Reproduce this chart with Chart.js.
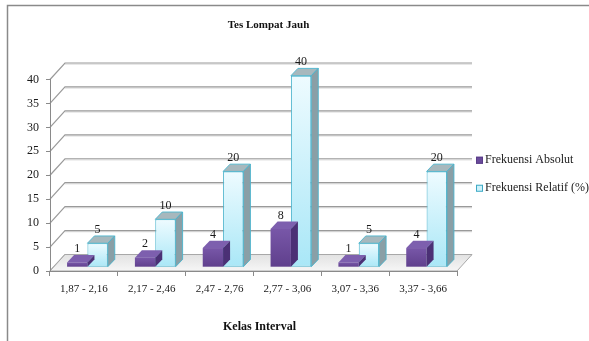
<!DOCTYPE html>
<html>
<head>
<meta charset="utf-8">
<script src="https://cdn.jsdelivr.net/npm/chart.js@4.4.1/dist/chart.umd.min.js"></script>
<style>
  html, body { margin: 0; padding: 0; background: #ffffff; }
  #wrap { width: 589px; height: 341px; }
  canvas { display: block; }
</style>
</head>
<body>
<div id="wrap"><canvas id="c" width="589" height="341"></canvas></div>
<script>
// Interval classes and frequencies
const categories = ['1,87 - 2,16', '2,17 - 2,46', '2,47 - 2,76', '2,77 - 3,06', '3,07 - 3,36', '3,37 - 3,66'];
const frekuensiAbsolut = [1, 2, 4, 8, 1, 4];
const frekuensiRelatif = [5, 10, 20, 40, 5, 20];
const seriesNames = ['Frekuensi Absolut', 'Frekuensi Relatif (%)'];
const yMin = 0;
const yMax = 40;
const yStep = 5;
const chartTitle = 'Tes Lompat Jauh';
const xAxisTitle = 'Kelas Interval';

const SERIF = "'Liberation Serif', 'Times New Roman', serif";

// 3D look: depth of the walls and of the columns
const WALL = { dx: 15, dy: -16.5 };
const FACE = { dx: 3.5, dy: -3.8 };   // column front faces sit a little behind the front plane
const DEPTH = { dx: 7, dy: -7.3 };    // column thickness

const looks = [
  { front: ['#7857a8', '#5f3f8c'], top: '#7d5fae', side: '#4b3075', edge: null, swatch: '#6a4b9b', swatchEdge: '#5a3d88' },
  { front: ['#eefbff', '#a9e7f7'], top: '#a7b8bd', side: '#8a9fa6', edge: '#4bb4cd', swatch: '#cdf2fb', swatchEdge: '#3fa9c4' }
];

function frontFill(stops) {
  return (c) => {
    const chart = c.chart;
    const y = chart.scales && chart.scales.y;
    if (c.type !== 'data' || !y) return stops[1];
    const top = y.getPixelForValue(c.raw);
    const bot = y.getPixelForValue(0);
    if (!isFinite(top) || !isFinite(bot) || Math.abs(bot - top) < 1) return stops[1];
    const g = chart.ctx.createLinearGradient(0, top, 0, bot);
    g.addColorStop(0, stops[0]);
    g.addColorStop(1, stops[1]);
    return g;
  };
}

const threeD = {
  id: 'threeD',
  beforeDraw(chart) {
    const { ctx, chartArea: a, scales: { y } } = chart;
    ctx.save();
    ctx.fillStyle = '#ffffff';
    ctx.fillRect(0, 0, chart.width, chart.height);

    // outer frame
    ctx.strokeStyle = '#8a8a8a';
    ctx.lineWidth = 1.5;
    ctx.beginPath();
    ctx.moveTo(7.5, chart.height);
    ctx.lineTo(7.5, 5.5);
    ctx.lineTo(chart.width, 5.5);
    ctx.stroke();

    // back wall gridlines and left wall edges
    for (let v = yMin; v <= yMax; v += yStep) {
      const yf = y.getPixelForValue(v);
      const yb = yf + WALL.dy;
      ctx.strokeStyle = '#dcdcdc';
      ctx.lineWidth = 1;
      ctx.beginPath();
      ctx.moveTo(a.left + WALL.dx, yb + 1.2);
      ctx.lineTo(a.right + WALL.dx, yb + 1.2);
      ctx.stroke();
      ctx.strokeStyle = '#9a9a9a';
      ctx.lineWidth = 1.2;
      ctx.beginPath();
      ctx.moveTo(a.left, yf);
      ctx.lineTo(a.left + WALL.dx, yb);
      ctx.lineTo(a.right + WALL.dx, yb);
      ctx.stroke();
    }

    // floor
    const y0 = y.getPixelForValue(0);
    const g = ctx.createLinearGradient(0, y0 + WALL.dy, 0, y0);
    g.addColorStop(0, '#e2e2e2');
    g.addColorStop(1, '#f6f6f6');
    ctx.fillStyle = g;
    ctx.strokeStyle = '#a8a8a8';
    ctx.lineWidth = 1;
    ctx.beginPath();
    ctx.moveTo(a.left, y0);
    ctx.lineTo(a.right, y0);
    ctx.lineTo(a.right + WALL.dx, y0 + WALL.dy);
    ctx.lineTo(a.left + WALL.dx, y0 + WALL.dy);
    ctx.closePath();
    ctx.fill();
    ctx.stroke();
    ctx.restore();
  },
  beforeDatasetDraw(chart) {
    chart.ctx.save();
    chart.ctx.translate(FACE.dx, FACE.dy);
  },
  afterDatasetDraw(chart, args) {
    const ctx = chart.ctx;
    const look = looks[args.index];
    args.meta.data.forEach((bar) => {
      const l = bar.x - bar.width / 2;
      const r = bar.x + bar.width / 2;
      const t = bar.y;
      const b = bar.base;
      // top face
      ctx.beginPath();
      ctx.moveTo(l, t);
      ctx.lineTo(r, t);
      ctx.lineTo(r + DEPTH.dx, t + DEPTH.dy);
      ctx.lineTo(l + DEPTH.dx, t + DEPTH.dy);
      ctx.closePath();
      ctx.fillStyle = look.top;
      ctx.fill();
      if (look.edge) { ctx.strokeStyle = look.edge; ctx.lineWidth = 0.9; ctx.stroke(); }
      // right side face
      ctx.beginPath();
      ctx.moveTo(r, t);
      ctx.lineTo(r + DEPTH.dx, t + DEPTH.dy);
      ctx.lineTo(r + DEPTH.dx, b + DEPTH.dy);
      ctx.lineTo(r, b);
      ctx.closePath();
      ctx.fillStyle = look.side;
      ctx.fill();
      if (look.edge) { ctx.strokeStyle = look.edge; ctx.lineWidth = 0.9; ctx.stroke(); }
    });
    ctx.restore();
  },
  afterDatasetsDraw(chart) {
    const ctx = chart.ctx;
    ctx.save();
    ctx.fillStyle = '#1a1a1a';
    ctx.font = '12px ' + SERIF;
    ctx.textAlign = 'center';
    ctx.textBaseline = 'alphabetic';
    chart.data.datasets.forEach((ds, i) => {
      chart.getDatasetMeta(i).data.forEach((bar, j) => {
        const x = bar.x + FACE.dx;
        const yTop = bar.y + FACE.dy + DEPTH.dy;
        ctx.fillText(String(ds.data[j]), x, yTop - 3);
      });
    });
    ctx.restore();
  },
  afterDraw(chart) {
    const ctx = chart.ctx;
    const a = chart.chartArea;
    ctx.save();
    ctx.fillStyle = '#111111';
    ctx.textAlign = 'center';
    ctx.textBaseline = 'middle';
    ctx.font = 'bold 11px ' + SERIF;
    ctx.fillText(chartTitle, (a.left + a.right) / 2 + WALL.dx, 25);
    ctx.font = 'bold 12px ' + SERIF;
    ctx.fillText(xAxisTitle, (a.left + a.right) / 2 + 6, 327);

    // legend
    ctx.textAlign = 'left';
    ctx.font = '12px ' + SERIF;
    const lx = a.right + WALL.dx + 4;
    const ly = a.top + (a.bottom - a.top) / 2 - 1;
    chart.data.datasets.forEach((ds, i) => {
      const cy = ly + (i - 0.5) * 28;
      ctx.fillStyle = looks[i].swatch;
      ctx.fillRect(lx, cy - 3.5, 7, 7);
      ctx.strokeStyle = looks[i].swatchEdge;
      ctx.lineWidth = 1;
      ctx.strokeRect(lx + 0.5, cy - 3, 6, 6);
      ctx.fillStyle = '#1a1a1a';
      ctx.fillText(ds.label, lx + 9, cy);
    });
    ctx.restore();
  }
};

new Chart(document.getElementById('c'), {
  type: 'bar',
  data: {
    labels: categories,
    datasets: [
      {
        label: seriesNames[0],
        data: frekuensiAbsolut,
        backgroundColor: frontFill(looks[0].front),
        borderWidth: 0,
        clip: false
      },
      {
        label: seriesNames[1],
        data: frekuensiRelatif,
        backgroundColor: frontFill(looks[1].front),
        borderColor: looks[1].edge,
        borderWidth: 1,
        borderSkipped: false,
        clip: false
      }
    ]
  },
  options: {
    responsive: false,
    animation: false,
    devicePixelRatio: 1,
    categoryPercentage: 0.6,
    barPercentage: 1.0,
    layout: { padding: { left: 0, right: 132, top: 79.5, bottom: 0 } },
    plugins: {
      legend: { display: false },
      title: { display: false },
      tooltip: { enabled: false }
    },
    scales: {
      x: {
        grid: { offset: true, drawOnChartArea: false, drawTicks: true, tickLength: 5, color: '#8a8a8a' },
        border: { display: true, color: '#8a8a8a', width: 1 },
        ticks: { font: { family: SERIF, size: 11 }, color: '#1a1a1a', padding: 7, maxRotation: 0, autoSkip: false },
        afterFit(scale) { scale.height = 70; }
      },
      y: {
        min: yMin,
        max: yMax,
        grid: { drawOnChartArea: false, drawTicks: true, tickLength: 4, color: '#8a8a8a' },
        border: { display: true, color: '#8a8a8a', width: 1 },
        ticks: { stepSize: yStep, font: { family: SERIF, size: 12 }, color: '#1a1a1a', padding: 7 },
        afterFit(scale) { scale.width = 50; }
      }
    }
  },
  plugins: [threeD]
});
</script>
</body>
</html>
